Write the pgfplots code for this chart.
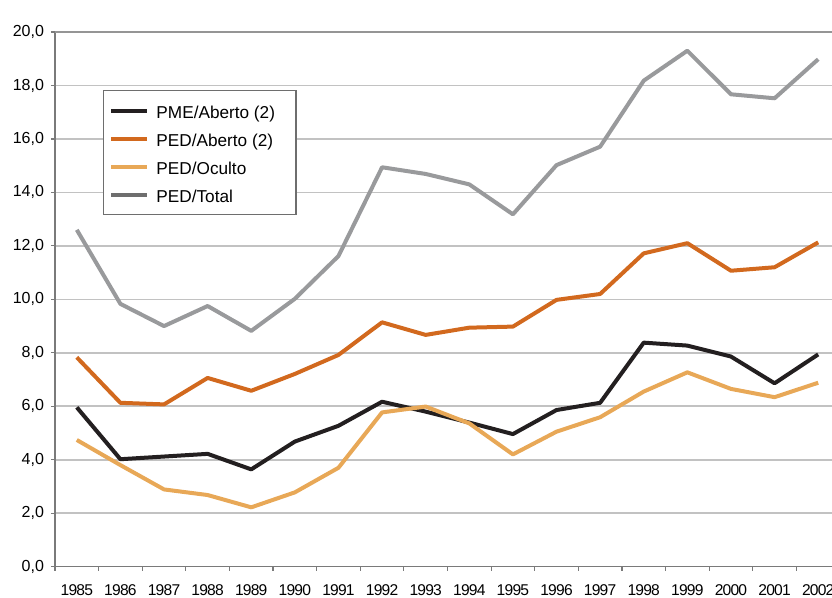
\documentclass[border=0pt]{standalone}
\usepackage{pgfplots}
\pgfplotsset{compat=1.18}
\usepackage{fontspec}
\setmainfont{Liberation Sans}
\definecolor{cblack}{HTML}{231F20}
\definecolor{corange}{HTML}{D2691E}
\definecolor{clight}{HTML}{E8A857}
\definecolor{cgray}{HTML}{999A9C}
\definecolor{clegray}{HTML}{6E6E6E}
\definecolor{gridgray}{HTML}{C2C2C2}
\definecolor{axisgray}{HTML}{7A7A7A}
\begin{document}
\begin{tikzpicture}
\begin{axis}[
  at={(0,0)}, anchor=south west,
  scale only axis, width=392.5pt, height=267.35pt,
  xmin=-0.5, xmax=17.5, ymin=0, ymax=20,
  axis x line*=bottom, axis y line*=left,
  axis line style={draw=axisgray, line width=0.8pt},
  font=\fontsize{8}{9.6}\selectfont,
  xtick={0,...,17},
  xticklabels={1985,1986,1987,1988,1989,1990,1991,1992,1993,1994,1995,1996,1997,1998,1999,2000,2001,2002},
  minor xtick={-0.5,0.5,...,17.5},
  major x tick style={draw=none},
  tick align=outside,
  major tick length=2pt, minor tick length=2pt,
  tick style={draw=axisgray, line width=0.6pt},
  xticklabel style={yshift=-3.3pt, font=\fontsize{7.8}{9}\selectfont\addfontfeatures{LetterSpace=-5}},
  yticklabel style={font=\fontsize{8}{9.6}\selectfont},
  ytick={0,2,...,20},
  /pgf/number format/use comma,
  /pgf/number format/fixed,
  /pgf/number format/fixed zerofill,
  /pgf/number format/precision=1,
  /pgf/number format/assume math mode=true,
  ymajorgrids, grid style={draw=gridgray, line width=0.8pt},
  every axis plot/.append style={line width=2pt, line join=round, no markers},
  legend image code/.code={\draw[#1] (0pt,0pt) -- (18pt,0pt);},
  legend cell align=left,
  legend style={at={(0.061,0.8915)}, anchor=north west, draw=clegray, line width=0.6pt, fill=white,
    font=\fontsize{8.6}{10}\selectfont, inner xsep=3pt, inner ysep=4pt, row sep=2pt, column sep=2.5pt,
    nodes={inner sep=1pt, text height=9pt, text depth=1pt}},
]
\draw[draw=axisgray!80, line width=0.8pt] (axis cs:-0.5,20) -- (axis cs:17.5,20);
\addplot[color=cblack] coordinates {(0,5.96) (1,4.02) (2,4.12) (3,4.22) (4,3.64) (5,4.68) (6,5.27) (7,6.17) (8,5.80) (9,5.39) (10,4.96) (11,5.86) (12,6.13) (13,8.38) (14,8.27) (15,7.86) (16,6.86) (17,7.94)};
\addlegendentry{PME/Aberto (2)\hspace*{6.5pt}}
\addplot[color=corange] coordinates {(0,7.83) (1,6.13) (2,6.07) (3,7.06) (4,6.58) (5,7.21) (6,7.92) (7,9.14) (8,8.67) (9,8.94) (10,8.98) (11,9.98) (12,10.2) (13,11.72) (14,12.1) (15,11.07) (16,11.2) (17,12.13)};
\addlegendentry{PED/Aberto (2)}
\addplot[color=clight] coordinates {(0,4.74) (1,3.80) (2,2.89) (3,2.68) (4,2.22) (5,2.78) (6,3.70) (7,5.77) (8,5.99) (9,5.36) (10,4.20) (11,5.05) (12,5.59) (13,6.55) (14,7.27) (15,6.65) (16,6.34) (17,6.88)};
\addlegendentry{PED/Oculto}
\addplot[color=cgray, forget plot] coordinates {(0,12.6) (1,9.83) (2,9.0) (3,9.75) (4,8.82) (5,10.02) (6,11.62) (7,14.94) (8,14.69) (9,14.3) (10,13.18) (11,15.02) (12,15.71) (13,18.18) (14,19.3) (15,17.67) (16,17.52) (17,18.98)};
\addlegendimage{color=clegray, line width=2pt}
\addlegendentry{PED/Total}
\node[anchor=base west, font=\fontsize{8}{9.6}\selectfont] at (rel axis cs:0,1) [xshift=2.5pt, yshift=3.5pt] {Em \%};
\end{axis}
\pgfresetboundingbox
\path[use as bounding box] (-27.5pt,-15.65pt) rectangle (388.5pt,283.35pt);
\end{tikzpicture}
\end{document}
